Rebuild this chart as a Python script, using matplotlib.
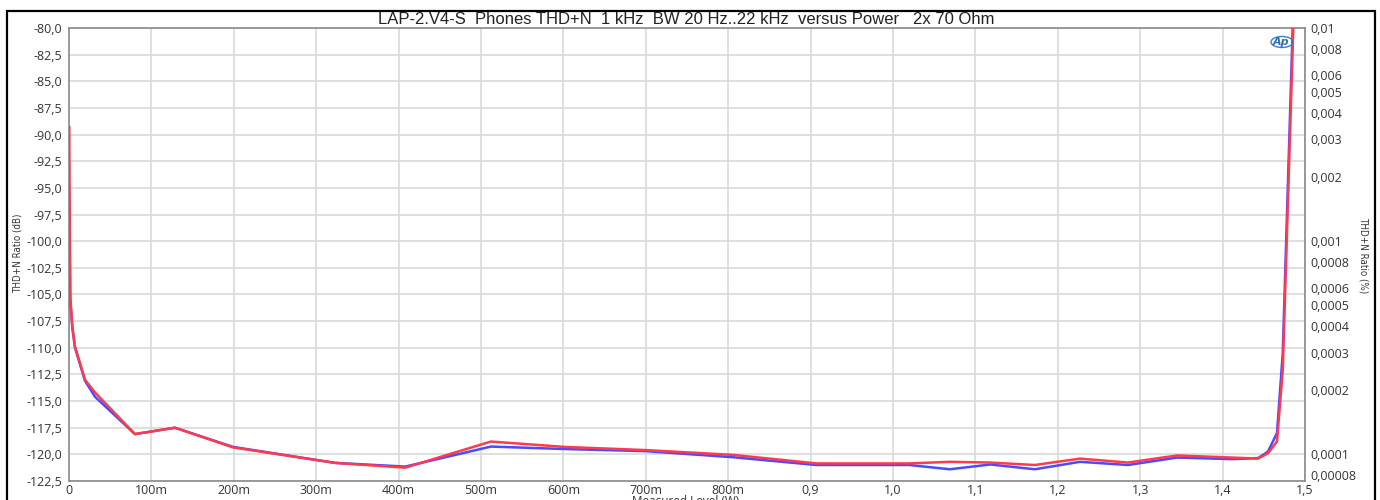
import matplotlib
matplotlib.use("Agg")
import matplotlib.pyplot as plt
from matplotlib.patches import Rectangle, Ellipse
from matplotlib.ticker import FixedLocator, FixedFormatter, NullLocator

# Measured output power (W)
power_w = [0.0003, 0.0015, 0.004, 0.0073, 0.0194, 0.0316, 0.080, 0.1286, 0.199,
           0.323, 0.408, 0.512, 0.601, 0.700, 0.806, 0.907, 1.020, 1.069, 1.118,
           1.172, 1.227, 1.285, 1.345, 1.411, 1.443, 1.455, 1.466, 1.473, 1.487]

# THD+N ratio (dB), left and right channel
thdn_blue = [-96.5, -105.3, -108.1, -110.0, -113.1, -114.6, -118.1, -117.5, -119.3,
             -120.8, -121.15, -119.27, -119.5, -119.7, -120.27, -121.0, -121.0, -121.4,
             -120.95, -121.4, -120.7, -121.0, -120.3, -120.45, -120.35, -119.75, -118.0,
             -110.5, -75.0]
thdn_red = [-89.3, -105.2, -108.0, -109.9, -113.0, -114.2, -118.1, -117.5, -119.35,
            -120.8, -121.25, -118.8, -119.3, -119.6, -120.05, -120.85, -120.85, -120.7,
            -120.77, -121.0, -120.4, -120.77, -120.1, -120.3, -120.4, -119.9, -118.8,
            -112.1, -77.0]

x_ticks = [0.0, 0.1, 0.2, 0.3, 0.4, 0.5, 0.6, 0.7, 0.8, 0.9, 1.0, 1.1, 1.2, 1.3, 1.4, 1.5]
x_labels = ["0", "100m", "200m", "300m", "400m", "500m", "600m", "700m", "800m",
            "0,9", "1,0", "1,1", "1,2", "1,3", "1,4", "1,5"]
db_ticks = [-80.0 - 2.5 * i for i in range(18)]
pct_ticks = [0.01, 0.008, 0.006, 0.005, 0.004, 0.003, 0.002, 0.001, 0.0008, 0.0006,
             0.0005, 0.0004, 0.0003, 0.0002, 0.0001, 0.00008]
pct_labels = ["0,01", "0,008", "0,006", "0,005", "0,004", "0,003", "0,002", "0,001",
              "0,0008", "0,0006", "0,0005", "0,0004", "0,0003", "0,0002", "0,0001",
              "0,00008"]

title = "LAP-2.V4-S  Phones THD+N  1 kHz  BW 20 Hz..22 kHz  versus Power   2x 70 Ohm"

W, H = 1380, 500
fig = plt.figure(figsize=(W / 100, H / 100), dpi=100)
fig.patch.set_facecolor("white")

left, right, top, bottom = 69, 1305, 28, 481
ax = fig.add_axes([left / W, 1 - bottom / H, (right - left) / W, (bottom - top) / H])

tick_size = 9.0
tick_font = dict(family="Open Sans", size=tick_size, color="#333333")
grid_col = "#d9d9d9"

ax.plot(power_w, thdn_blue, color="#4a4aff", lw=1.8, solid_joinstyle="round", zorder=3)
ax.plot(power_w, thdn_red, color="#ff3a4e", lw=1.8, solid_joinstyle="round", zorder=4)

ax.set_xlim(0, 1.5)
ax.set_ylim(-122.5, -80.0)
ax.set_xticks(x_ticks)
ax.set_xticklabels(x_labels, fontdict=tick_font)
ax.set_yticks(db_ticks)
ax.set_yticklabels([f"{v:.1f}".replace(".", ",") for v in db_ticks], fontdict=tick_font)
ax.tick_params(axis="y", length=0, pad=5)
ax.tick_params(axis="x", length=0, pad=2)
ax.grid(True, color=grid_col, lw=1.2)
ax.set_axisbelow(True)
for s in ax.spines.values():
    s.set_color("#8a8a8a")
    s.set_linewidth(1.2)

ax2 = ax.twinx()
ax2.set_yscale("log")
ax2.set_ylim(10 ** (-122.5 / 20) * 100, 0.01)
ax2.yaxis.set_major_locator(FixedLocator(pct_ticks))
ax2.yaxis.set_major_formatter(FixedFormatter(pct_labels))
ax2.yaxis.set_minor_locator(NullLocator())
for lbl in ax2.get_yticklabels():
    lbl.set_fontfamily("Open Sans")
    lbl.set_fontsize(tick_size)
    lbl.set_color("#333333")
ax2.tick_params(length=0, pad=4)
for s in ax2.spines.values():
    s.set_visible(False)

fig.text(18 / W, 1 - 253 / H, "THD+N Ratio (dB)", rotation=90, ha="center", va="center",
         family="Liberation Sans Narrow", stretch="condensed", size=7.0, color="#333333")
fig.text(1364 / W, 1 - 255 / H, "THD+N Ratio (%)", rotation=270, ha="center", va="center",
         family="Liberation Sans Narrow", stretch="condensed", size=7.0, color="#333333")
fig.text(686 / W, 1 - 495 / H, "Measured Level (W)", ha="center", va="top",
         family="Open Sans", size=8.5, color="#333333")

fig.text(686 / W, 1 - 19 / H, title, ha="center", va="center",
         family="Liberation Sans", size=12, color="#222222")

# Ap badge in the upper right corner of the plot
fig.add_artist(Ellipse((1282 / W, 1 - 42 / H), 22 / W, 11 / H, angle=0,
                       transform=fig.transFigure, fill=False, edgecolor="#3a7fc6",
                       lw=1.0))
fig.text(1281 / W, 1 - 42 / H, "Ap", ha="center", va="center", family="DejaVu Sans",
         style="italic", weight="bold", size=8, color="#2f6fb8")

# outer frame
fig.add_artist(Rectangle((7 / W, -0.1), (1375 - 7) / W, 1.1 - 11 / H,
                         transform=fig.transFigure, fill=False, edgecolor="black",
                         lw=1.6, clip_on=False))

fig.savefig("out.png", dpi=100)
